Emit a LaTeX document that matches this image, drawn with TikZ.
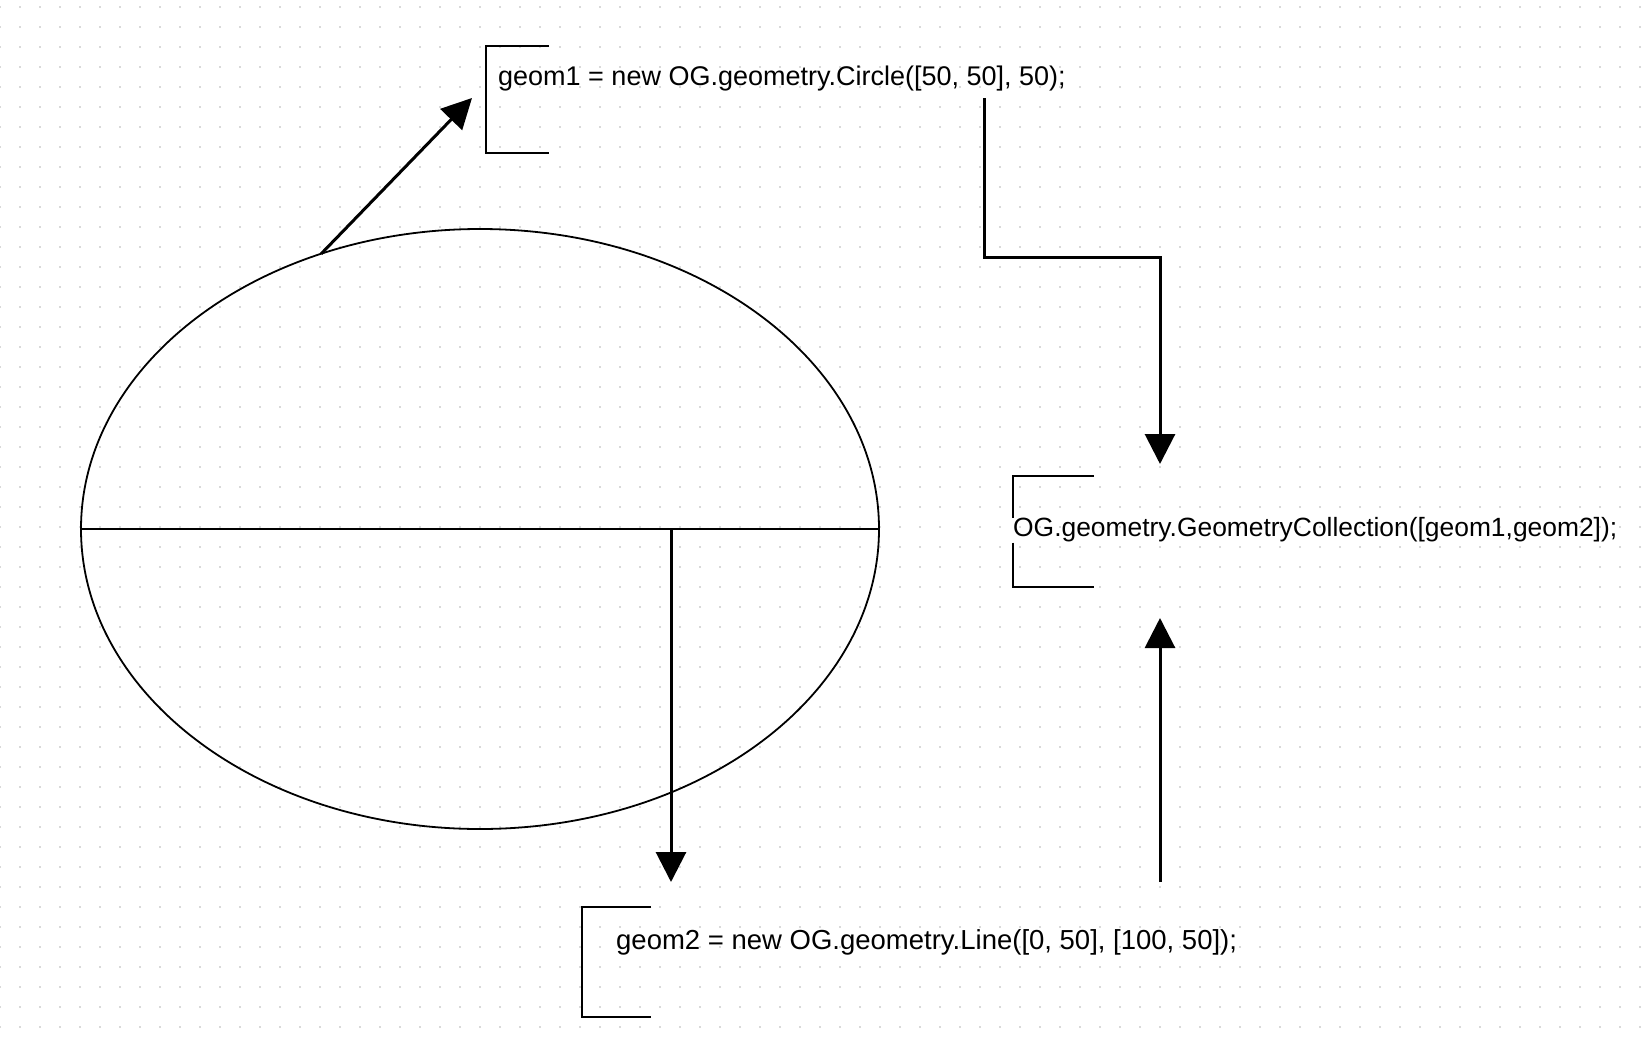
\documentclass[tikz,border=0pt]{standalone}
\usepackage{fontspec}
\setmainfont{Liberation Sans}
\usetikzlibrary{shapes,arrows.meta,positioning}
\tikzset{griddot/.style={draw=black!15,line width=2pt,dash pattern=on 2pt off 18pt}}
\tikzset{code/.style={anchor=west,inner sep=0pt,font=\fontsize{27}{31}\selectfont}}
\tikzset{brack/.style={draw,line width=2pt}}
\tikzset{shape line/.style={draw,line width=1.8pt}}
\tikzset{arrow/.style={draw,line width=3pt,-{Triangle[length=30pt,width=30pt]}}}

\begin{document}
\begin{tikzpicture}[x=1pt,y=-1pt]
    \fill[white] (0,0) rectangle (1650,1042);
    \useasboundingbox (0,0) rectangle (1650,1042);
    \foreach \y in {7,27,...,1047}
        \draw[griddot] (-1,\y) -- (1651,\y);

    \node[shape line,ellipse,minimum width=798pt,minimum height=600pt,inner sep=0pt,outer sep=0pt] (circ) at (480,529) {};
    \path[shape line] (circ.west) -- (circ.east);

    \node[code] (geomone) at (498,79) {geom1 = new OG.geometry.Circle([50, 50], 50);};
    \node[code,font=\fontsize{26.4}{31}\selectfont] (coll) at (1013,530) {OG.geometry.GeometryCollection([geom1,geom2]);};
    \node[code,font=\fontsize{27.5}{31}\selectfont] (geomtwo) at (616,942) {geom2 = new OG.geometry.Line([0, 50], [100, 50]);};

    % brackets
    \path[brack] (549,46) -- (486,46) -- (486,153) -- (549,153);
    \path[brack] (1094,476) -- (1013,476) -- (coll.north west);
    \path[brack] (coll.south west) -- (1013,587) -- (1094,587);
    \path[brack] (651,907) -- (582,907) -- (582,1017) -- (651,1017);

    \coordinate (t1) at (472,98);
    \coordinate (s1) at (984,98);
    \coordinate (c1) at (1160,257);
    \coordinate (t2) at (1160,464);
    \coordinate (s2) at (671,529);
    \coordinate (t3) at (671,882);
    \coordinate (s3) at (1160,882);
    \coordinate (t4) at (1160,618);

    \path[arrow] (circ.120) -- (t1);
    \path[arrow] (s1) |- (c1) -- (t2);
    \path[arrow] (s2) -- (t3);
    \path[arrow] (s3) -- (t4);
\end{tikzpicture}
\end{document}
